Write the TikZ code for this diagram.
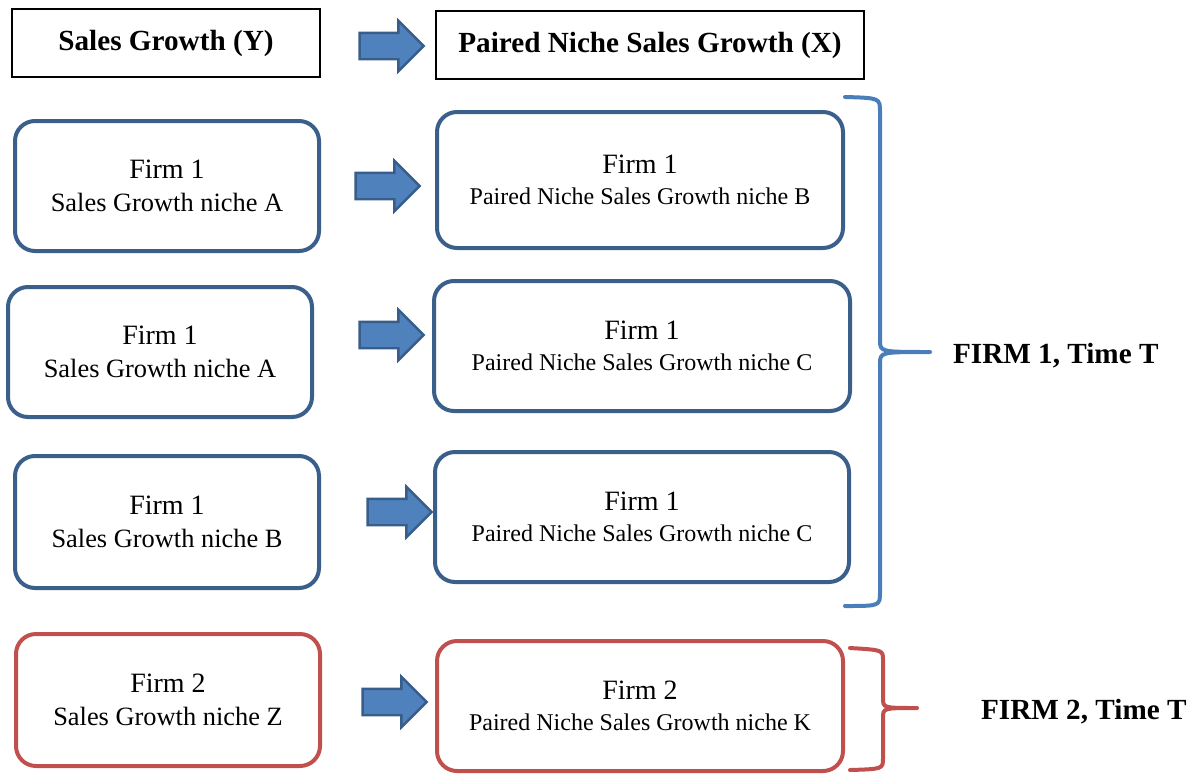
\documentclass[tikz,border=0pt]{standalone}
\usepackage{fontspec}
\setmainfont{Liberation Serif}
\usetikzlibrary{shapes.arrows}
\definecolor{boxblue}{HTML}{3A5F8B}
\definecolor{braceblue}{HTML}{4A7EBB}
\definecolor{arrowfill}{HTML}{4F81BD}
\definecolor{arrowline}{HTML}{385D8A}
\definecolor{firmred}{HTML}{C0504D}
\newcommand{\firmline}[2]{{\fontsize{14}{16.5}\selectfont #1}\\#2}
\begin{document}
\begin{tikzpicture}[x=0.5pt,y=-0.5pt,
  head/.style={draw=black, line width=0.9pt, minimum height=34pt,
    font=\fontsize{14.6}{17}\selectfont\bfseries},
  firm/.style={draw=boxblue, line width=2pt, rounded corners=10pt, align=center,
    minimum height=65pt, font=\fontsize{13.2}{16.5}\selectfont},
  pair/.style={firm, font=\fontsize{12}{15.5}\selectfont},
  push/.style={single arrow, fill=arrowfill, draw=arrowline, line width=1.2pt,
    minimum height=32pt, inner sep=0pt, inner ysep=6pt, text height=0pt, text depth=0pt,
    single arrow head extend=6pt},
  brace/.style={line width=2pt, line cap=round, line join=round},
  tag/.style={anchor=west, font=\fontsize{14.6}{17}\selectfont\bfseries}]
  \useasboundingbox (0,0) rectangle (1203,776);

  % headings
  \node[head, minimum width=154pt] (hy) at (166,43) {Sales Growth (Y)};
  \node[head, minimum width=214pt] (hx) at (650,45) {Paired Niche Sales Growth (X)};
  \node[push] (a0) at (385,46) {};

  % firm 1 pairs
  \node[firm, minimum width=152pt] (l1) at (167,186) {\firmline{Firm 1}{Sales Growth niche A}};
  \node[pair, minimum width=203pt, minimum height=68pt] (r1) at (640,180) {\firmline{Firm 1}{Paired Niche Sales Growth niche B}};
  \node[push] (a1) at (381,186) {};

  \node[firm, minimum width=152pt] (l2) at (160,352) {\firmline{Firm 1}{Sales Growth niche A}};
  \node[pair, minimum width=208pt] (r2) at (642,346) {\firmline{Firm 1}{Paired Niche Sales Growth niche C}};
  \node[push] (a2) at (385,335) {};

  \node[firm, minimum width=152pt, minimum height=66pt] (l3) at (167,522) {\firmline{Firm 1}{Sales Growth niche B}};
  \node[pair, minimum width=207pt] (r3) at (642,517) {\firmline{Firm 1}{Paired Niche Sales Growth niche C}};
  \node[push] (a3) at (393,512) {};

  % firm 2
  \node[firm, draw=firmred, minimum width=152pt, minimum height=66pt] (l4) at (168,700) {\firmline{Firm 2}{Sales Growth niche Z}};
  \node[pair, draw=firmred, minimum width=203pt] (r4) at (640,706) {\firmline{Firm 2}{Paired Niche Sales Growth niche K}};
  \node[push] (a4) at (388,702) {};

  % braces
  \draw[brace, draw=braceblue] (845,97) .. controls (880,98) .. (880,112) -- (880,340)
    .. controls (880,352) .. (930,352) .. controls (880,352) .. (880,364) -- (880,592)
    .. controls (880,606) .. (845,606);
  \draw[brace, draw=firmred] (850,648) .. controls (883,650) .. (883,660) -- (883,698)
    .. controls (883,708) .. (917,708) .. controls (883,708) .. (883,718) -- (883,758)
    .. controls (883,769) .. (850,770);
  \node[tag] (f1) at (946,356) {FIRM 1, Time T};
  \node[tag] (f2) at (974,712) {FIRM 2, Time T};
\end{tikzpicture}
\end{document}
